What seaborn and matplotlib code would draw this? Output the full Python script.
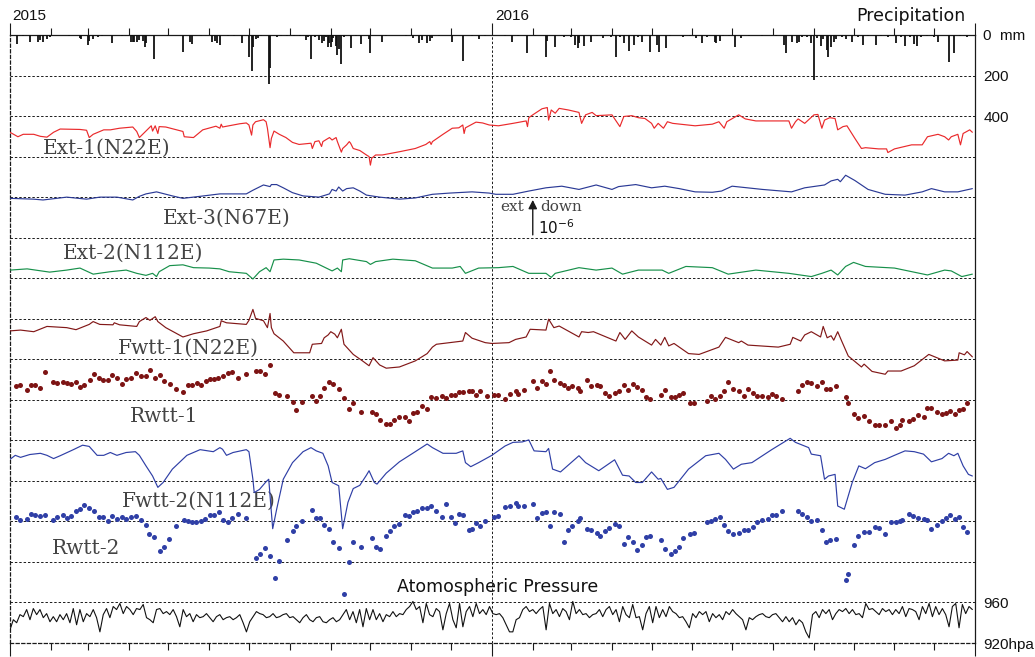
import numpy as np
import pandas as pd
import matplotlib.pyplot as plt
import seaborn as sns

# day = days since 2015-01-01, strain values in 1e-6, rain in mm, pressure in hPa

precip = [(5.5, 44), (10, 5), (15, 33), (21, 33), (23, 24), (25, 33), (28, 21), (30, 11), (45, 4), (53, 16),
          (54, 21), (59, 49), (60, 28), (63, 21), (67, 11), (70, 6), (77, 41), (85, 5), (92, 37), (93, 33),
          (94, 37), (96, 33), (98, 24), (101, 28), (102, 57), (103, 41), (109, 119), (120, 4), (131, 86),
          (136, 33), (138, 44), (145, 6), (153, 37), (155, 28), (157, 41), (159, 49), (165, 4), (170, 5),
          (176, 41), (181, 109), (183, 179), (184, 57), (186, 21), (188, 16), (190, 6), (196, 244), (197, 163),
          (202, 11), (205, 5), (210, 4), (215, 6), (220, 5), (224, 24), (226, 8), (228, 119), (231, 10),
          (234, 24), (236, 41), (238, 28), (239, 12), (241, 57), (242, 41), (243, 60), (244, 33), (245, 15),
          (247, 54), (248, 98), (249, 70), (251, 141), (253, 8), (258, 65), (262, 6), (266, 44), (272, 21),
          (273, 89), (282, 33), (285, 5), (300, 4), (305, 16), (310, 41), (312, 24), (316, 41), (318, 28),
          (320, 16), (325, 5), (335, 33), (343, 130), (350, 6), (355, 21), (360, 4), (375, 5), (380, 37),
          (385, 6), (392, 89), (398, 5), (406, 109), (407, 28), (413, 60), (420, 8), (425, 12), (428, 49),
          (430, 65), (431, 41), (435, 54), (440, 37), (445, 6), (449, 16), (455, 8), (459, 109), (462, 10),
          (465, 41), (469, 81), (473, 49), (476, 12), (479, 33), (485, 86), (490, 49), (492, 86), (497, 65),
          (500, 5), (510, 11), (515, 6), (520, 16), (524, 41), (528, 8), (534, 37), (535, 41), (538, 28),
          (540, 5), (545, 6), (549, 60), (554, 16), (560, 4), (570, 3), (580, 5), (586, 49), (588, 89),
          (592, 33), (596, 41), (598, 33), (600, 8), (604, 12), (607, 41), (609, 220), (611, 15), (614, 54),
          (616, 20), (619, 73), (620, 109), (622, 57), (624, 33), (626, 18), (630, 10), (633, 21), (638, 37),
          (642, 8), (646, 49), (650, 6), (656, 49), (660, 5), (665, 10), (671, 41), (675, 8), (678, 54),
          (682, 12), (685, 44), (687, 54), (690, 10), (695, 6), (700, 8), (703, 37), (711, 135), (715, 89),
          (720, 6), (725, 10)]

ext1 = [(0, 0.60), (6, 0.49), (10, 0.55), (18, 0.55), (23, 0.50), (28, 0.48), (33, 0.60), (38, 0.68),
        (53, 0.67), (58, 0.65), (60, 0.47), (63, 0.55), (71, 0.66), (76, 0.66), (83, 0.70), (93, 0.73),
        (96, 0.62), (98, 0.47), (103, 0.63), (107, 0.76), (108, 0.63), (110, 0.76), (112, 0.57), (113, 0.74),
        (118, 0.73), (131, 0.62), (132, 0.49), (139, 0.47), (146, 0.66), (156, 0.75), (159, 0.70), (160, 0.80),
        (161, 0.73), (174, 0.81), (179, 0.83), (181, 0.78), (183, 0.53), (184, 0.78), (186, 0.86), (192, 0.91),
        (194, 0.86), (195, 0.70), (197, 0.22), (198, 0.45), (200, 0.63), (204, 0.55), (209, 0.47), (214, 0.35),
        (219, 0.30), (228, 0.33), (229, 0.20), (231, 0.37), (234, 0.39), (236, 0.25), (237, 0.37), (242, 0.47),
        (244, 0.41), (247, 0.47), (248, 0.37), (251, 0.11), (252, 0.20), (255, 0.29), (257, 0.37), (258, 0.33),
        (260, 0.20), (265, 0.15), (270, 0.04), (272, 0.00), (273, -0.21), (274, -0.04), (277, 0.04), (282, 0.04),
        (295, 0.12), (307, 0.20), (315, 0.30), (318, 0.37), (319, 0.30), (320, 0.37), (328, 0.55), (335, 0.70),
        (340, 0.71), (343, 0.78), (344, 0.57), (345, 0.71), (353, 0.85), (358, 0.83), (363, 0.78), (370, 0.76),
        (381, 0.82), (391, 0.88), (392, 0.74), (393, 0.96), (396, 1.03), (403, 1.18), (407, 1.21), (408, 0.90),
        (410, 1.15), (413, 1.07), (416, 1.19), (423, 1.15), (431, 1.09), (433, 0.82), (436, 1.03), (441, 1.09),
        (444, 1.01), (456, 1.03), (462, 0.74), (465, 0.99), (471, 1.01), (476, 0.96), (481, 0.94), (486, 0.82),
        (488, 0.70), (491, 0.82), (495, 0.70), (498, 0.86), (502, 0.82), (519, 0.76), (532, 0.80), (537, 0.86),
        (541, 0.70), (543, 0.86), (552, 1.03), (557, 0.93), (565, 0.88), (590, 0.88), (592, 0.70), (595, 0.86),
        (597, 0.93), (602, 0.82), (609, 1.03), (612, 1.04), (615, 0.70), (617, 0.90), (621, 0.96), (625, 0.94),
        (627, 0.66), (631, 0.74), (634, 0.76), (640, 0.45), (645, 0.20), (648, 0.22), (658, 0.19), (664, 0.19),
        (665, 0.10), (670, 0.19), (683, 0.29), (691, 0.29), (695, 0.49), (703, 0.55), (708, 0.49), (711, 0.41),
        (713, 0.49), (718, 0.55), (720, 0.29), (722, 0.57), (727, 0.66), (729, 0.60)]

ext3 = [(0, -0.03), (18, -0.05), (25, -0.07), (43, 0.00), (58, -0.05), (68, 0.00), (81, 0.00), (93, -0.07),
        (98, 0.02), (103, 0.08), (111, 0.13), (123, 0.03), (131, -0.03), (144, 0.02), (159, 0.08), (179, 0.08),
        (184, 0.17), (192, 0.30), (197, 0.26), (198, 0.31), (202, 0.31), (207, 0.23), (214, 0.11), (222, 0.03),
        (234, 0.00), (242, 0.08), (244, 0.19), (247, 0.15), (249, 0.25), (252, 0.15), (255, 0.21), (260, 0.23),
        (265, 0.15), (270, 0.05), (280, 0.00), (295, -0.05), (307, -0.02), (320, 0.07), (333, 0.10), (350, 0.13),
        (363, 0.10), (368, 0.07), (381, 0.07), (393, 0.15), (406, 0.23), (418, 0.27), (431, 0.19), (444, 0.30),
        (456, 0.19), (461, 0.26), (474, 0.31), (486, 0.23), (496, 0.27), (507, 0.21), (519, 0.13), (532, 0.12),
        (539, 0.15), (547, 0.27), (570, 0.19), (592, 0.13), (602, 0.23), (617, 0.30), (622, 0.40), (627, 0.44),
        (629, 0.38), (633, 0.54), (640, 0.41), (650, 0.19), (663, 0.07), (678, 0.05), (691, 0.13), (698, 0.21),
        (708, 0.13), (718, 0.13), (729, 0.21)]

ext2 = [(0, 0.20), (13, 0.23), (30, 0.15), (43, 0.20), (53, 0.25), (63, 0.10), (76, 0.16), (88, 0.20),
        (96, 0.12), (103, 0.07), (108, 0.12), (111, 0.04), (113, 0.16), (121, 0.31), (131, 0.33), (139, 0.26),
        (151, 0.25), (159, 0.23), (166, 0.16), (179, 0.12), (184, -0.02), (189, 0.16), (194, 0.26), (197, 0.16),
        (200, 0.45), (207, 0.47), (219, 0.45), (232, 0.37), (244, 0.18), (248, 0.25), (251, 0.16), (252, 0.45),
        (257, 0.48), (270, 0.41), (273, 0.34), (277, 0.41), (290, 0.47), (307, 0.43), (320, 0.25), (335, 0.25),
        (341, 0.29), (345, 0.12), (355, 0.25), (370, 0.26), (381, 0.29), (393, 0.12), (406, 0.12), (410, 0.02),
        (413, 0.12), (431, 0.26), (444, 0.20), (456, 0.25), (464, 0.10), (476, 0.20), (494, 0.20), (499, 0.12),
        (512, 0.29), (532, 0.26), (544, 0.10), (565, 0.20), (590, 0.12), (607, 0.04), (615, 0.12), (622, 0.20),
        (627, 0.08), (633, 0.29), (639, 0.39), (648, 0.29), (670, 0.25), (695, 0.08), (708, 0.20), (713, 0.18),
        (721, 0.04), (729, 0.10)]

fwtt1 = [(0, 0.70), (8, 0.72), (18, 0.68), (28, 0.81), (43, 0.78), (50, 0.73), (60, 0.86), (63, 0.93),
         (68, 0.86), (78, 0.85), (79, 0.90), (83, 0.85), (96, 0.81), (98, 0.93), (103, 1.03), (106, 0.96),
         (110, 1.05), (112, 0.93), (118, 0.78), (131, 0.55), (139, 0.63), (149, 0.70), (159, 0.81), (160, 0.95),
         (164, 0.90), (179, 0.86), (181, 0.96), (184, 1.23), (186, 1.01), (192, 0.95), (195, 0.78), (197, 1.13),
         (198, 0.78), (200, 0.63), (207, 0.45), (215, 0.16), (227, 0.16), (229, 0.37), (236, 0.39), (238, 0.53),
         (241, 0.60), (243, 0.68), (246, 0.62), (248, 0.53), (251, 0.74), (253, 0.37), (260, 0.12), (267, -0.04),
         (272, -0.16), (275, 0.04), (280, -0.14), (285, -0.22), (295, -0.19), (307, -0.04), (316, 0.14),
         (320, 0.30), (323, 0.37), (333, 0.41), (343, 0.45), (345, 0.66), (350, 0.52), (360, 0.41), (365, 0.39),
         (378, 0.41), (383, 0.49), (391, 0.55), (394, 0.74), (406, 0.72), (408, 0.99), (412, 0.78), (416, 0.82),
         (431, 0.55), (433, 0.68), (438, 0.66), (442, 0.68), (459, 0.45), (462, 0.66), (466, 0.49), (471, 0.70),
         (476, 0.55), (486, 0.35), (489, 0.49), (493, 0.35), (496, 0.54), (499, 0.33), (503, 0.39), (514, 0.14),
         (522, 0.12), (537, 0.30), (542, 0.54), (552, 0.41), (554, 0.45), (559, 0.35), (582, 0.30), (591, 0.37),
         (593, 0.54), (599, 0.45), (602, 0.60), (607, 0.68), (614, 0.55), (616, 0.81), (619, 0.53), (622, 0.58),
         (624, 0.47), (627, 0.68), (630, 0.45), (635, 0.08), (645, -0.19), (647, -0.12), (653, -0.30),
         (663, -0.37), (665, -0.29), (675, -0.29), (685, -0.16), (696, 0.12), (708, -0.04), (718, -0.02),
         (719, 0.16), (723, 0.11), (725, 0.19), (729, 0.06)]

rwtt1 = [(4.5, 0.34), (7.6, 0.36), (12.6, 0.23), (15.6, 0.36), (18.6, 0.36), (22.7, 0.30), (26.7, 0.69),
         (32.8, 0.44), (35.8, 0.42), (39.8, 0.44), (42.8, 0.42), (46.4, 0.40), (49.9, 0.44), (53.4, 0.31),
         (56.4, 0.36), (60.5, 0.48), (63.5, 0.63), (67.5, 0.53), (70.6, 0.48), (74.3, 0.50), (77.6, 0.61),
         (81.1, 0.53), (84.7, 0.40), (88.2, 0.51), (91.7, 0.53), (95.3, 0.67), (99.3, 0.58), (102.8, 0.59),
         (105.8, 0.74), (109.9, 0.53), (113.4, 0.60), (116.4, 0.46), (121, 0.38), (126, 0.27), (131, 0.20),
         (134.8, 0.36), (138.1, 0.36), (141.6, 0.42), (144.6, 0.36), (148.2, 0.46), (151.2, 0.51), (154.7, 0.51),
         (157.8, 0.54), (161.3, 0.59), (164.8, 0.66), (168.3, 0.69), (172.4, 0.54), (178.9, 0.63), (186, 0.72),
         (189, 0.72), (193, 0.63), (197, 0.87), (201, 0.18), (204, 0.13), (210, 0.10), (214, -0.05), (217, -0.26),
         (221, -0.05), (229, 0.10), (232, -0.02), (235, 0.10), (238, 0.30), (242, 0.44), (245, 0.40), (249, 0.26),
         (253, 0.05), (257, -0.23), (260, -0.08), (266, -0.31), (274, -0.31), (277, -0.36), (280, -0.49),
         (285, -0.59), (288, -0.59), (291, -0.51), (295, -0.43), (299, -0.43), (302, -0.53), (305, -0.33),
         (308, -0.30), (312, -0.16), (316, -0.23), (319, 0.07), (323, 0.05), (327, 0.10), (330, 0.05), (334, 0.13),
         (337, 0.13), (340, 0.20), (343, 0.20), (348, 0.21), (350, 0.21), (353, 0.12), (356, 0.21), (361, 0.10),
         (367, 0.13), (370, 0.11), (375, 0.01), (379, 0.15), (383, 0.21), (385, 0.15), (389, 0.24), (396, 0.47),
         (399, 0.30), (403, 0.47), (406, 0.40), (409, 0.72), (412, 0.50), (417, 0.42), (420, 0.36), (423, 0.30),
         (426, 0.33), (430, 0.28), (432, 0.21), (437, 0.50), (440, 0.33), (445, 0.36), (447, 0.33), (451, 0.18),
         (454, 0.10), (458, 0.18), (461, 0.21), (465, 0.36), (468, 0.25), (472, 0.38), (475, 0.31), (479, 0.25),
         (482, 0.07), (485, 0.02), (493, 0.13), (496, 0.25), (501, 0.07), (504, 0.07), (507, 0.13), (510, 0.18),
         (515, -0.08), (518, -0.08), (528, -0.03), (531, 0.10), (534, 0.02), (538, 0.10), (541, 0.21), (544, 0.44),
         (548, 0.26), (552, 0.21), (556, 0.10), (559, 0.26), (563, 0.17), (566, 0.10), (570, 0.10), (574, 0.07),
         (577, 0.15), (580, 0.10), (585, 0.02), (597, 0.21), (600, 0.36), (604, 0.44), (607, 0.42), (611, 0.33),
         (615, 0.44), (618, 0.26), (621, 0.26), (626, 0.33), (633, 0.07), (635, -0.08), (639, -0.35), (642, -0.46),
         (647, -0.40), (651, -0.53), (655, -0.61), (658, -0.62), (663, -0.62), (667, -0.53), (671, -0.69),
         (674, -0.61), (676, -0.51), (681, -0.53), (684, -0.48), (688, -0.38), (692, -0.42), (695, -0.20),
         (698, -0.20), (702, -0.30), (706, -0.36), (709, -0.33), (712, -0.28), (716, -0.36), (719, -0.25),
         (722, -0.23), (725, -0.07)]

fwtt2 = [(0, 0.53), (4, 0.63), (8, 0.58), (15, 0.65), (23, 0.68), (28, 0.63), (33, 0.55), (38, 0.62),
         (48, 0.77), (55, 0.88), (60, 0.85), (66, 0.63), (71, 0.63), (76, 0.70), (81, 0.63), (88, 0.70),
         (95, 0.72), (98, 0.63), (103, 0.37), (108, 0.12), (112, -0.16), (116, -0.04), (123, 0.29), (134, 0.63),
         (144, 0.77), (154, 0.72), (159, 0.82), (161, 0.78), (164, 0.63), (169, 0.70), (179, 0.77), (181, 0.72),
         (184, 0.04), (185, -0.29), (189, -0.21), (194, -0.02), (196, 0.04), (197, -0.37), (199, -1.18),
         (202, -0.70), (207, 0.04), (214, 0.45), (222, 0.72), (228, 0.82), (232, 0.74), (237, 0.68), (241, 0.37),
         (244, -0.04), (249, -0.12), (252, -1.18), (256, -0.53), (260, -0.19), (265, -0.11), (270, 0.14),
         (272, 0.25), (276, -0.04), (278, -0.08), (285, 0.19), (295, 0.47), (307, 0.72), (316, 0.91), (320, 0.82),
         (328, 0.68), (338, 0.68), (343, 0.74), (345, 0.45), (349, 0.35), (355, 0.45), (365, 0.63), (375, 0.86),
         (381, 0.95), (388, 0.96), (393, 1.01), (397, 0.74), (406, 0.72), (408, 0.80), (411, 0.29), (417, 0.22),
         (431, 0.62), (436, 0.45), (446, 0.25), (458, 0.52), (464, 0.14), (469, 0.12), (474, -0.04), (479, -0.04),
         (486, 0.22), (491, 0.04), (493, 0.06), (498, -0.21), (503, -0.16), (514, 0.29), (527, 0.62), (537, 0.68),
         (542, 0.53), (548, 0.29), (554, 0.41), (562, 0.45), (577, 0.77), (591, 1.05), (595, 0.95), (605, 0.82),
         (607, 0.66), (614, 0.62), (617, 0.04), (620, 0.12), (625, 0.16), (627, -0.62), (632, -0.70), (638, -0.04),
         (643, 0.37), (648, 0.30), (655, 0.45), (663, 0.53), (670, 0.63), (678, 0.74), (685, 0.72), (692, 0.66),
         (698, 0.47), (706, 0.55), (711, 0.68), (715, 0.62), (718, 0.68), (722, 0.37), (726, 0.16), (729, 0.12)]

rwtt2 = [(4.5, 0.12), (7.6, 0.04), (12.6, 0.06), (15.6, 0.18), (18.6, 0.16), (22.7, 0.14), (26.7, 0.16),
         (32.8, 0.04), (35.8, 0.11), (39.8, 0.16), (42.8, 0.09), (46.4, 0.14), (49.9, 0.26), (53.4, 0.30),
         (56.4, 0.40), (60, 0.32), (63.5, 0.26), (67.5, 0.12), (70.6, 0.10), (74.3, 0.01), (77.6, 0.14), (81, 0.07),
         (84.7, 0.11), (88, 0.07), (91.7, 0.12), (95.3, 0.14), (99.3, 0.04), (102.8, -0.09), (105.3, -0.32),
         (109.4, -0.39), (113.4, -0.73), (116.4, -0.62), (120.5, -0.44), (126, -0.12), (131.5, 0.04), (135, 0.01),
         (138, -0.01), (141, -0.02), (144.6, 0.01), (148, 0.06), (151.2, 0.17), (154.7, 0.17), (158.3, 0.22),
         (161.3, 0.04), (164.8, -0.01), (168.3, 0.09), (172.4, 0.19), (178.9, 0.09), (186, -0.90), (189, -0.81),
         (193, -0.65), (197, -0.86), (201, -1.39), (204, -0.98), (210, -0.47), (214, -0.24), (217, -0.11),
         (221, 0.01), (229, 0.27), (232, 0.09), (235, 0.09), (238, -0.09), (242, -0.19), (245, -0.50), (249, -0.65),
         (253, -1.79), (257, -1.00), (260, -0.52), (266, -0.62), (274, -0.40), (277, -0.63), (280, -0.68),
         (285, -0.37), (288, -0.24), (291, -0.12), (295, -0.06), (299, 0.16), (302, 0.14), (305, 0.22), (308, 0.26),
         (312, 0.34), (316, 0.34), (319, 0.37), (323, 0.26), (327, 0.11), (330, 0.42), (334, 0.11), (337, -0.04),
         (340, 0.19), (343, 0.16), (348, -0.21), (350, -0.19), (353, -0.04), (356, -0.11), (360, 0.01), (367, 0.11),
         (370, 0.14), (375, 0.35), (379, 0.39), (383, 0.45), (385, 0.39), (389, 0.39), (396, 0.44), (399, 0.09),
         (403, 0.21), (406, 0.24), (409, -0.12), (412, 0.24), (417, 0.18), (420, -0.52), (423, -0.21), (426, -0.12),
         (430, 0.01), (432, 0.09), (437, -0.19), (440, -0.21), (445, -0.29), (447, -0.35), (451, -0.24),
         (454, -0.16), (458, -0.06), (461, -0.12), (465, -0.55), (468, -0.39), (472, -0.52), (475, -0.70),
         (479, -0.57), (482, -0.39), (485, -0.37), (493, -0.47), (496, -0.67), (501, -0.80), (504, -0.73),
         (507, -0.62), (510, -0.42), (515, -0.32), (518, -0.29), (528, -0.02), (531, 0.01), (534, 0.06), (538, 0.11),
         (541, -0.09), (544, -0.24), (548, -0.32), (552, -0.29), (556, -0.21), (559, -0.21), (563, -0.14),
         (566, -0.02), (570, 0.04), (574, 0.06), (577, 0.16), (580, 0.17), (585, 0.26), (597, 0.26), (600, 0.18),
         (604, 0.12), (607, 0.01), (611, 0.04), (615, -0.21), (618, -0.50), (621, -0.47), (626, -0.44),
         (633, -1.44), (635, -1.29), (639, -0.57), (642, -0.35), (647, -0.27), (651, -0.27), (655, -0.14),
         (658, -0.17), (663, -0.32), (667, -0.02), (671, -0.02), (674, 0.01), (676, 0.04), (681, 0.19), (684, 0.14),
         (688, 0.09), (692, 0.07), (695, 0.04), (698, -0.19), (702, -0.09), (706, 0.01), (709, 0.09), (712, 0.17),
         (716, 0.06), (719, 0.12), (722, -0.14), (725, -0.27)]

# atmospheric pressure, roughly every 2.5 days over the two years
pressure = [933, 943, 940, 948, 946, 953, 943, 954, 948, 953, 945, 949, 941, 946, 941, 948, 943, 949, 940, 954,
            938, 953, 941, 949, 946, 953, 945, 931, 948, 954, 945, 956, 953, 959, 949, 956, 953, 948, 954, 953,
            958, 945, 943, 940, 953, 954, 949, 951, 948, 953, 946, 936, 953, 946, 949, 941, 948, 945, 946, 949,
            945, 941, 946, 948, 943, 945, 946, 943, 945, 948, 940, 931, 941, 946, 951, 949, 948, 945, 946, 949,
            945, 946, 948, 949, 945, 946, 943, 940, 945, 948, 943, 941, 945, 946, 941, 940, 943, 945, 941, 943,
            948, 953, 943, 951, 940, 953, 936, 954, 943, 953, 943, 949, 941, 948, 946, 951, 946, 949, 948, 953,
            956, 961, 953, 956, 940, 959, 948, 946, 954, 951, 933, 949, 959, 943, 935, 959, 936, 951, 956, 946,
            959, 949, 953, 948, 956, 949, 948, 949, 945, 938, 931,
            931, 943, 945, 953, 956, 951, 953, 949, 953, 956, 933, 959, 949, 953, 946, 954, 951, 943, 961, 949,
            953, 948, 949, 945, 948, 949, 953, 946, 953, 956, 948, 953, 941, 956, 948, 945, 958, 945, 946, 933,
            949, 956, 940, 956, 945, 953, 946, 956, 951, 949, 945, 946, 941, 935, 949, 945, 951, 948, 951, 941,
            949, 945, 948, 943, 951, 948, 953, 949, 946, 943, 933, 945, 943, 946, 948, 949, 946, 945, 948, 949,
            945, 941, 946, 941, 945, 938, 943, 940, 931, 925, 948, 951, 945, 953, 949, 953, 943, 949, 953, 951,
            954, 949, 953, 948, 949, 945, 959, 953, 954, 951, 948, 954, 951, 953, 948, 953, 949, 956, 946, 954,
            953, 951, 943, 956, 949, 959, 946, 956, 948, 954, 948, 936, 956, 959, 935, 958, 949, 956, 953]

month_starts = [0, 31, 59, 90, 120, 151, 181, 212, 243, 273, 304, 334,
                365, 396, 425, 456, 486, 517, 547, 578, 609, 639, 670, 700, 731]
year_starts = [0, 365, 731]

right_ticks = [0, -1, -2, -14, -15]
right_labels = ['0  mm', '200', '400', '960', '920hpa']

# baseline (in gridline units from the top) for each trace
levels = {'ext1': -3, 'ext3': -4, 'ext2': -6, 'fwtt1': -8, 'rwtt1': -9, 'fwtt2': -11, 'rwtt2': -12}

red = '#ea2a2c'
navy = '#2b3a96'
green = '#17904a'
maroon = '#821818'
blue = '#2f3fa6'

sns.set_theme(style='white')
plt.rcParams['font.family'] = ['DejaVu Sans']

fig = plt.figure(figsize=(10.35, 6.57), dpi=100)
ax = fig.add_axes([10 / 1035, 14 / 657, 965 / 1035, 608 / 657])


def trace(points, level):
    df = pd.DataFrame(points, columns=['day', 'val'])
    df['y'] = df['val'] + level
    return df


# gridlines
for k in range(1, 15):
    ax.axhline(-k, color='k', lw=0.7, ls=(0, (2.5, 2)), zorder=1)
ax.axvline(365, color='k', lw=0.7, ls=(0, (2.5, 2)), zorder=1)

# precipitation bars hanging from the top
rain = pd.DataFrame(precip, columns=['day', 'mm'])
ax.vlines(rain['day'], 0, -rain['mm'] / 200, color='#111111', lw=1.3, zorder=3)

for name, pts, col in [('ext1', ext1, red), ('ext3', ext3, navy), ('ext2', ext2, green),
                       ('fwtt1', fwtt1, maroon), ('fwtt2', fwtt2, blue)]:
    sns.lineplot(data=trace(pts, levels[name]), x='day', y='y', color=col, lw=0.85,
                 estimator=None, sort=False, ax=ax, zorder=4)

for name, pts, col in [('rwtt1', rwtt1, '#7d1414'), ('rwtt2', rwtt2, blue)]:
    sns.scatterplot(data=trace(pts, levels[name]), x='day', y='y', color=col, s=13,
                    linewidth=0, ax=ax, zorder=4)

press = pd.DataFrame({'day': np.linspace(0, 729, len(pressure)), 'hpa': pressure})
press['y'] = -15 + (press['hpa'] - 920) / 40
sns.lineplot(data=press, x='day', y='y', color='#111111', lw=0.8, estimator=None, sort=False, ax=ax, zorder=4)

ax.set_xlim(0, 731)
ax.set_ylim(-15, 0)
ax.set_xlabel('')
ax.set_ylabel('')

# ticks
ax.set_xticks(year_starts)
ax.set_xticks(month_starts, minor=True)
ax.tick_params(axis='x', which='both', top=True, bottom=True, direction='out', color='k',
               labelbottom=False, labeltop=False, width=0.8)
ax.tick_params(axis='x', which='major', length=9)
ax.tick_params(axis='x', which='minor', length=5)
ax.yaxis.tick_right()
ax.set_yticks(right_ticks)
ax.set_yticklabels(right_labels, family='Liberation Sans')
ax.tick_params(axis='y', length=0, pad=6, labelsize=11, colors='#111111')

for side in ['top', 'right', 'left', 'bottom']:
    ax.spines[side].set_visible(True)
    ax.spines[side].set_color('k')
    ax.spines[side].set_linewidth(0.9)
ax.spines['left'].set_linestyle((0, (2.5, 2)))
ax.spines['bottom'].set_linestyle((0, (2.5, 2)))

# trace labels
serif = dict(family='DejaVu Serif', fontsize=14.5, color='#444444', va='center', ha='left')
ax.text(25, -2.79, 'Ext-1(N22E)', **serif)
ax.text(116, -4.52, 'Ext-3(N67E)', **serif)
ax.text(40, -5.38, 'Ext-2(N112E)', **serif)
ax.text(82, -7.72, 'Fwtt-1(N22E)', **serif)
ax.text(91, -9.40, 'Rwtt-1', **serif)
ax.text(85, -11.50, 'Fwtt-2(N112E)', **serif)
ax.text(32, -12.68, 'Rwtt-2', **serif)
ax.text(293, -13.62, 'Atomospheric Pressure', fontsize=12.5, color='#111111', va='center', ha='left')

# scale arrow
ax.annotate('', xy=(396, -4.0), xytext=(396, -5.0),
            arrowprops=dict(arrowstyle='-|>', color='k', lw=1.0, mutation_scale=13))
ax.text(371, -4.24, 'ext', family='DejaVu Serif', fontsize=11, color='#444444', va='center', ha='left')
ax.text(402, -4.24, 'down', family='DejaVu Serif', fontsize=11, color='#444444', va='center', ha='left')
ax.text(400, -4.76, '10$^{-6}$', fontsize=11, color='#111111', va='center', ha='left')

fig.text(12 / 1035, 1 - 16 / 657, '2015', family='Liberation Sans', fontsize=11, color='#111111',
         va='center', ha='left')
fig.text(495 / 1035, 1 - 16 / 657, '2016', family='Liberation Sans', fontsize=11, color='#111111',
         va='center', ha='left')
fig.text(965 / 1035, 1 - 16 / 657, 'Precipitation', fontsize=12.5, color='#111111', va='center', ha='right')

fig.savefig('out.png', dpi=100)
